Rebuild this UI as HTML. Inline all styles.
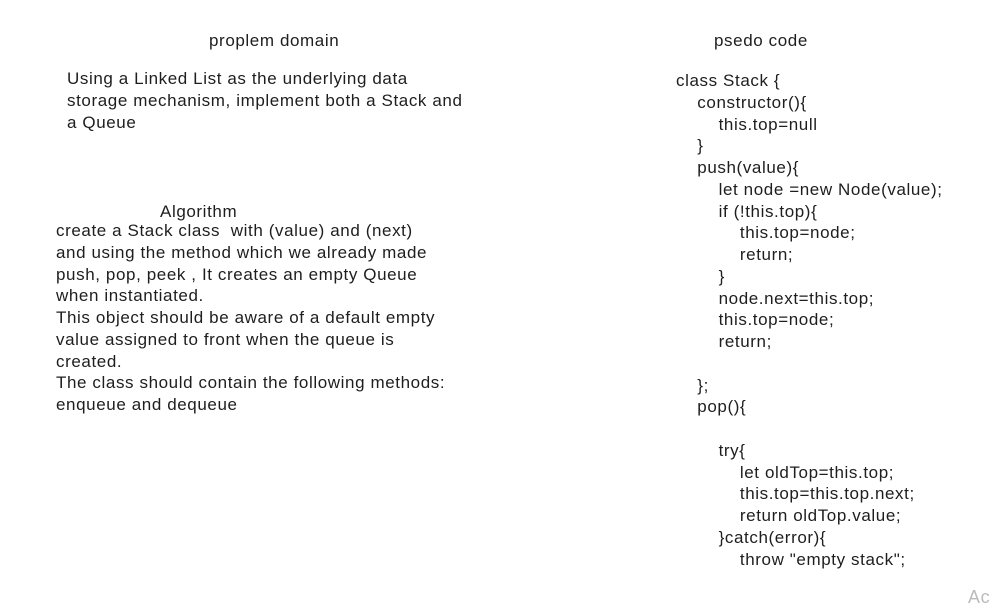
<!DOCTYPE html>
<html><head><meta charset="utf-8"><style>
html,body{margin:0;padding:0;background:#fff;width:990px;height:603px;overflow:hidden;position:relative}
.t{position:absolute;font-family:"Liberation Sans",sans-serif;font-size:17px;letter-spacing:0.6px;line-height:21.75px;color:#1e1e1e;white-space:pre;margin:0}
</style></head><body>
<div class="t" style="left:209px;top:30px">proplem domain</div>
<div class="t" style="left:67px;top:68px">Using a Linked List as the underlying data
storage mechanism, implement both a Stack and
a Queue</div>
<div class="t" style="left:160px;top:201px">Algorithm</div>
<div class="t" style="left:56px;top:220px">create a Stack class  with (value) and (next)
and using the method which we already made
push, pop, peek , It creates an empty Queue
when instantiated.
This object should be aware of a default empty
value assigned to front when the queue is
created.
The class should contain the following methods:
enqueue and dequeue</div>
<div class="t" style="left:714px;top:30px">psedo code</div>
<div class="t" style="left:676px;top:70px">class Stack {
    constructor(){
        this.top=null
    }
    push(value){
        let node =new Node(value);
        if (!this.top){
            this.top=node;
            return;
        }
        node.next=this.top;
        this.top=node;
        return;

    };
    pop(){

        try{
            let oldTop=this.top;
            this.top=this.top.next;
            return oldTop.value;
        }catch(error){
            throw "empty stack";</div>
<div class="t" style="left:968px;top:587px;color:#bbb;font-size:18px">Ac</div>
</body></html>
